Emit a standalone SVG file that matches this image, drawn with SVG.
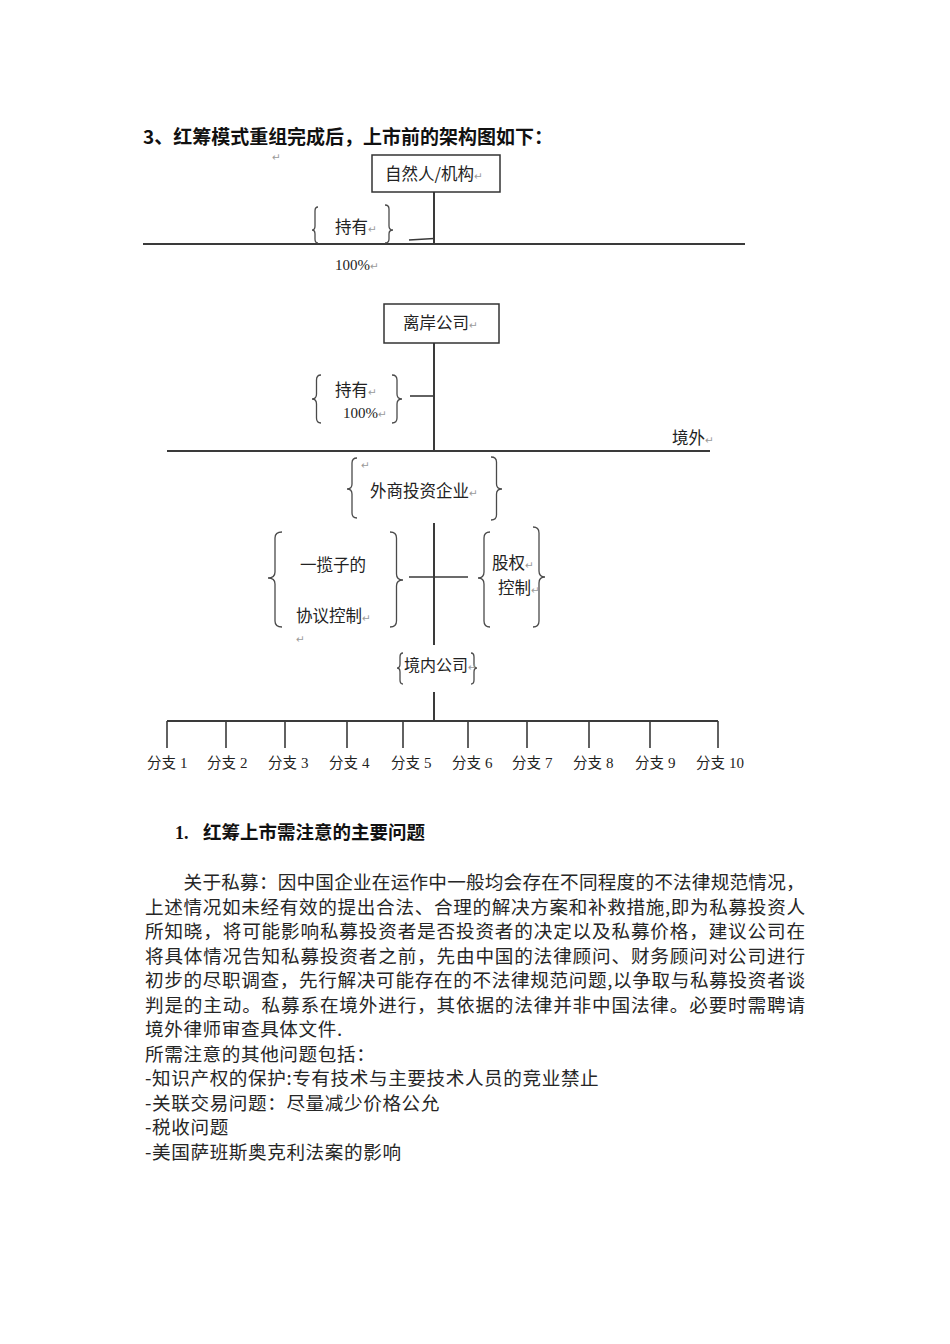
<svg xmlns="http://www.w3.org/2000/svg" width="950" height="1344" viewBox="0 0 950 1344">
<style>
.ln{stroke:#3a3a3a;stroke-width:2;fill:none}
.st{stroke:#3a3a3a;stroke-width:1.6;fill:none}
.br{stroke:#4a4a4a;stroke-width:1.3;fill:none}
.box{fill:#fff;stroke:#333;stroke-width:1.5}
.lbl{font-family:"Noto Sans CJK SC","Noto Sans",sans-serif;font-size:16.5px;fill:#222}
.num{font-family:"Liberation Serif",serif;font-size:15px;fill:#222}
.pm{font-family:"DejaVu Sans",sans-serif;font-size:10.5px;fill:#9a9a9a}
.br-l{font-family:"Noto Sans CJK SC",sans-serif;font-size:14.5px;fill:#222}
.br-n{font-family:"Liberation Serif",serif;font-size:15px;fill:#222}
.ttl{font-family:"Noto Sans CJK SC",sans-serif;font-size:19px;font-weight:700;fill:#111}
.hd{font-family:"Noto Sans CJK SC",sans-serif;font-size:18.5px;font-weight:700;fill:#111}
.hdn{font-family:"Liberation Serif",serif;font-size:18px;font-weight:700;fill:#111}
.body{font-family:"Noto Sans CJK SC",sans-serif;font-size:18.6px;fill:#262626}
</style>
<rect width="950" height="1344" fill="#fff"/>

<g id="title">
<text class="ttl" x="143" y="144" textLength="410" lengthAdjust="spacing">3、红筹模式重组完成后，上市前的架构图如下：</text>
<text class="pm" x="272" y="161">↵</text>
</g>

<g id="connectors">
<line class="ln" x1="434" y1="192" x2="434" y2="244"/>
<line class="st" x1="409" y1="240" x2="434" y2="238.5"/>
<line class="ln" x1="143" y1="244" x2="745" y2="244"/>
<line class="ln" x1="434" y1="343" x2="434" y2="451"/>
<line class="st" x1="410" y1="396" x2="434" y2="396"/>
<line class="ln" x1="167" y1="451" x2="710" y2="451"/>
<line class="ln" x1="434" y1="523" x2="434" y2="645"/>
<line class="st" x1="409" y1="577" x2="468" y2="577"/>
<line class="ln" x1="434" y1="692" x2="434" y2="721"/>
<line class="ln" x1="167" y1="721" x2="718" y2="721"/>
<line class="st" x1="167" y1="721" x2="167" y2="748"/>
<line class="st" x1="226" y1="721" x2="226" y2="748"/>
<line class="st" x1="285" y1="721" x2="285" y2="748"/>
<line class="st" x1="347" y1="721" x2="347" y2="748"/>
<line class="st" x1="403" y1="721" x2="403" y2="748"/>
<line class="st" x1="468" y1="721" x2="468" y2="748"/>
<line class="st" x1="527" y1="721" x2="527" y2="748"/>
<line class="st" x1="589" y1="721" x2="589" y2="748"/>
<line class="st" x1="650" y1="721" x2="650" y2="748"/>
<line class="st" x1="718" y1="721" x2="718" y2="748"/>
</g>

<g id="node-ziranren">
<rect class="box" x="372" y="155" width="128" height="37"/>
<text class="lbl" x="385" y="180">自然人/机构<tspan class="pm">↵</tspan></text>
</g>

<g id="node-chiyou-1">
<path class="br" d="M318,207 Q315,207 315,211 L315,226 Q315,230 312,230 Q315,230 315,234 L315,239 Q315,243 318,243"/>
<path class="br" d="M385,205 Q389,205 389,209 L389,226 Q389,230 393,230 Q389,230 389,234 L389,239 Q389,243 385,243"/>
<text class="lbl" x="335" y="233">持有<tspan class="pm">↵</tspan></text>
<text class="num" x="335" y="270">100%<tspan class="pm">↵</tspan></text>
</g>

<g id="node-lian">
<rect class="box" x="384" y="304" width="115" height="39"/>
<text class="lbl" x="403" y="329">离岸公司<tspan class="pm">↵</tspan></text>
</g>

<g id="node-chiyou-2">
<path class="br" d="M321,375 Q316.5,375 316.5,380 L316.5,394 Q316.5,399 312,399 Q316.5,399 316.5,404 L316.5,418 Q316.5,423 321,423"/>
<path class="br" d="M392,375 Q397,375 397,380 L397,394 Q397,399 402,399 Q397,399 397,404 L397,418 Q397,423 392,423"/>
<text class="lbl" x="335" y="396">持有<tspan class="pm">↵</tspan></text>
<text class="num" x="343" y="418">100%<tspan class="pm">↵</tspan></text>
</g>

<g id="node-jingwai">
<text class="lbl" x="672" y="444">境外<tspan class="pm">↵</tspan></text>
</g>

<g id="node-waishang">
<path class="br" d="M357,458 Q352,458 352,463 L352,484 Q352,489 347,489 Q352,489 352,494 L352,513 Q352,518 357,518"/>
<path class="br" d="M491,457 Q496.5,457 496.5,462 L496.5,484 Q496.5,489 502,489 Q496.5,489 496.5,494 L496.5,515 Q496.5,520 491,520"/>
<text class="pm" x="361" y="469">↵</text>
<text class="lbl" x="370" y="497">外商投资企业<tspan class="pm">↵</tspan></text>
</g>

<g id="node-xieyi">
<path class="br" d="M282,532 Q275,532 275,538 L275,572 Q275,578 268,578 Q275,578 275,584 L275,621 Q275,627 282,627"/>
<path class="br" d="M390,532 Q396.5,532 396.5,538 L396.5,574 Q396.5,580 403,580 Q396.5,580 396.5,586 L396.5,621 Q396.5,627 390,627"/>
<text class="lbl" x="300" y="571">一揽子的</text>
<text class="lbl" x="296" y="622">协议控制<tspan class="pm">↵</tspan></text>
<text class="pm" x="296" y="643">↵</text>
</g>

<g id="node-guquan">
<path class="br" d="M490,532 Q484,532 484,538 L484,572 Q484,578 478,578 Q484,578 484,584 L484,621 Q484,627 490,627"/>
<path class="br" d="M533,527 Q539,527 539,533 L539,571 Q539,577 545,577 Q539,577 539,583 L539,621 Q539,627 533,627"/>
<text class="lbl" x="492" y="569">股权<tspan class="pm">↵</tspan></text>
<text class="lbl" x="498" y="594">控制<tspan class="pm">↵</tspan></text>
</g>

<g id="node-jingnei">
<path class="br" d="M403,653 Q400,653 400,657 L400,664 Q400,668 397,668 Q400,668 400,672 L400,680 Q400,684 403,684"/>
<path class="br" d="M471,653 Q474,653 474,657 L474,664 Q474,668 477,668 Q474,668 474,672 L474,680 Q474,684 471,684"/>
<text class="lbl" x="404" y="671" style="font-size:16px">境内公司<tspan class="pm">↵</tspan></text>
</g>

<g id="node-branch-1"><text x="147" y="768"><tspan class="br-l">分支</tspan><tspan class="br-n" dx="4">1</tspan></text></g>
<g id="node-branch-2"><text x="207" y="768"><tspan class="br-l">分支</tspan><tspan class="br-n" dx="4">2</tspan></text></g>
<g id="node-branch-3"><text x="268" y="768"><tspan class="br-l">分支</tspan><tspan class="br-n" dx="4">3</tspan></text></g>
<g id="node-branch-4"><text x="329" y="768"><tspan class="br-l">分支</tspan><tspan class="br-n" dx="4">4</tspan></text></g>
<g id="node-branch-5"><text x="391" y="768"><tspan class="br-l">分支</tspan><tspan class="br-n" dx="4">5</tspan></text></g>
<g id="node-branch-6"><text x="452" y="768"><tspan class="br-l">分支</tspan><tspan class="br-n" dx="4">6</tspan></text></g>
<g id="node-branch-7"><text x="512" y="768"><tspan class="br-l">分支</tspan><tspan class="br-n" dx="4">7</tspan></text></g>
<g id="node-branch-8"><text x="573" y="768"><tspan class="br-l">分支</tspan><tspan class="br-n" dx="4">8</tspan></text></g>
<g id="node-branch-9"><text x="635" y="768"><tspan class="br-l">分支</tspan><tspan class="br-n" dx="4">9</tspan></text></g>
<g id="node-branch-10"><text x="696" y="768"><tspan class="br-l">分支</tspan><tspan class="br-n" dx="4">10</tspan></text></g>

<g id="section">
<text x="175" y="839"><tspan class="hdn">1.</tspan><tspan class="hd" x="203">红筹上市需注意的主要问题</tspan></text>
<text class="body" x="183.6" y="889" textLength="621" lengthAdjust="spacing">关于私募：因中国企业在运作中一般均会存在不同程度的不法律规范情况，</text>
<text class="body" x="145" y="913.5" textLength="660" lengthAdjust="spacing">上述情况如未经有效的提出合法、合理的解决方案和补救措施,即为私募投资人</text>
<text class="body" x="145" y="938" textLength="660" lengthAdjust="spacing">所知晓，将可能影响私募投资者是否投资者的决定以及私募价格，建议公司在</text>
<text class="body" x="145" y="962.5" textLength="660" lengthAdjust="spacing">将具体情况告知私募投资者之前，先由中国的法律顾问、财务顾问对公司进行</text>
<text class="body" x="145" y="987" textLength="660" lengthAdjust="spacing">初步的尽职调查，先行解决可能存在的不法律规范问题,以争取与私募投资者谈</text>
<text class="body" x="145" y="1011.5" textLength="660" lengthAdjust="spacing">判是的主动。私募系在境外进行，其依据的法律并非中国法律。必要时需聘请</text>
<text class="body" x="145" y="1036" letter-spacing="0.6">境外律师审查具体文件.</text>
<text class="body" x="145" y="1060.5" letter-spacing="0.6">所需注意的其他问题包括：</text>
<text class="body" x="145" y="1085" letter-spacing="0.6">-知识产权的保护:专有技术与主要技术人员的竞业禁止</text>
<text class="body" x="145" y="1109.5" letter-spacing="0.6">-关联交易问题：尽量减少价格公允</text>
<text class="body" x="145" y="1134" letter-spacing="0.6">-税收问题</text>
<text class="body" x="145" y="1158.5" letter-spacing="0.6">-美国萨班斯奥克利法案的影响</text>
</g>
</svg>
